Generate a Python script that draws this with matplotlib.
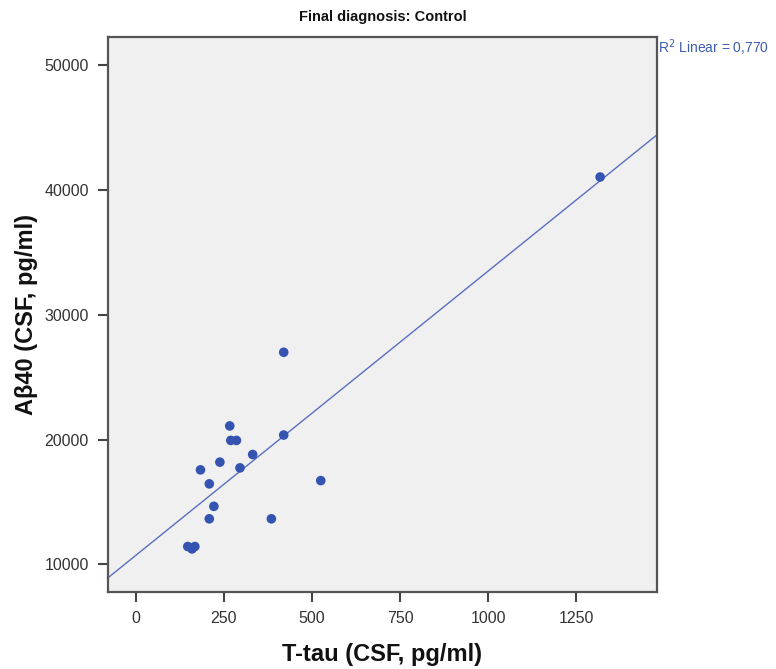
import numpy as np
import matplotlib
matplotlib.use("Agg")
import matplotlib.pyplot as plt

plt.rcParams['font.family'] = ['Liberation Sans', 'DejaVu Sans']

t_tau = [420, 267, 270, 286, 420, 332, 239, 296, 184, 209, 525, 222, 209, 385, 148, 168, 160, 1317]
abeta40 = [26990, 21090, 19930, 19930, 20360, 18800, 18190, 17730, 17570, 16450, 16710, 14650,
           13650, 13650, 11430, 11430, 11240, 41030]
x_ticks = [0, 250, 500, 750, 1000, 1250]
y_ticks = [10000, 20000, 30000, 40000, 50000]
title = "Final diagnosis: Control"
r2_text = "R$^2$ Linear = 0,770"

fig = plt.figure(figsize=(7.76, 6.69), dpi=100)
ax = fig.add_axes([0.1388, 0.1146, 0.7082, 0.8296])
ax.set_facecolor('#F0F0F0')

xlim = (-79, 1479)
ylim = (7760, 52220)

slope, intercept = np.polyfit(t_tau, abeta40, 1)
xs = np.array(xlim)
ax.plot(xs, slope * xs + intercept, color='#5A6EC0', lw=1.0, zorder=2)
ax.scatter(t_tau, abeta40, s=48, color='#3553B0', edgecolors='none', zorder=3)

ax.set_xlim(*xlim)
ax.set_ylim(*ylim)
ax.set_xticks(x_ticks)
ax.set_yticks(y_ticks)
ax.tick_params(direction='out', length=7.5, width=1.5, color='#444444',
               labelsize=11.5, labelcolor='#333333', pad=6)
for s in ax.spines.values():
    s.set_color('#555555')
    s.set_linewidth(1.6)

ax.set_title(title, fontsize=10.5, fontweight='bold', pad=12, color='#111111')
ax.set_xlabel("T-tau (CSF, pg/ml)", fontsize=17, fontweight='bold', labelpad=12, color='#111111')
ax.set_ylabel("Aβ40 (CSF, pg/ml)", fontsize=17, fontweight='bold', labelpad=5, color='#111111')

fig.text(0.848, 0.928, r2_text, fontsize=10, color='#3D5BAF', ha='left', va='center')

fig.savefig("out.png", dpi=100)
